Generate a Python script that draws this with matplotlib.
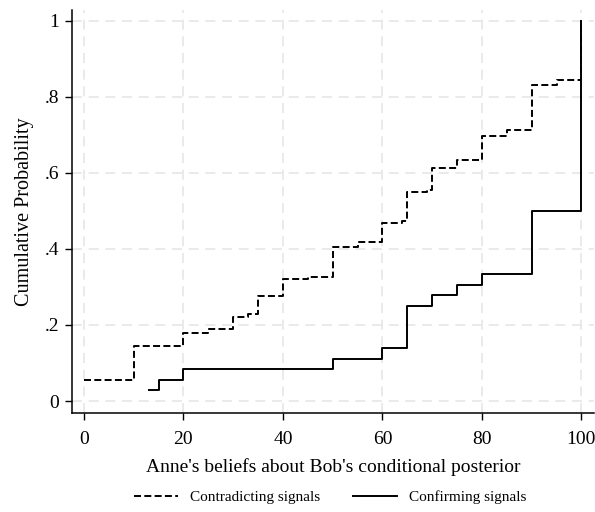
import matplotlib.pyplot as plt
from matplotlib.lines import Line2D

# step points (x, cumulative probability)
contra_x = [0, 10, 20, 25, 30, 33, 35, 40, 45, 50, 55, 60, 64, 65, 69, 70,
            75, 80, 85, 90, 95, 100]
contra_y = [0.055, 0.146, 0.178, 0.190, 0.220, 0.230, 0.276, 0.321, 0.326,
            0.406, 0.419, 0.467, 0.474, 0.549, 0.555, 0.614, 0.634, 0.697,
            0.714, 0.831, 0.844, 1.0]

confirm_x = [13, 15, 20, 50, 60, 65, 70, 75, 80, 90, 100]
confirm_y = [0.0278, 0.0556, 0.0833, 0.111, 0.139, 0.25, 0.278, 0.306,
             0.333, 0.5, 1.0]

xticks = [0, 20, 40, 60, 80, 100]
yticks = [0, 0.2, 0.4, 0.6, 0.8, 1]
ytick_labels = ["0", ".2", ".4", ".6", ".8", "1"]

plt.rcParams["font.family"] = ["Liberation Serif", "DejaVu Serif"]

dash = (0, (3.6, 1.7))

fig = plt.figure(figsize=(5.95, 5.12), dpi=100)
ax = fig.add_axes([0.121, 0.193, 0.877, 0.787])

ax.grid(True, color="#e6e6e6", linestyle=(0, (6, 4)), linewidth=1.2)
ax.set_axisbelow(True)

ax.step(contra_x, contra_y, where="post", color="black", linewidth=1.4,
        linestyle=dash)
ax.step(confirm_x, confirm_y, where="post", color="black", linewidth=1.4)

ax.set_xlim(-2.4, 102.5)
ax.set_ylim(-0.032, 1.028)
ax.set_xticks(xticks)
ax.set_yticks(yticks)
ax.set_yticklabels(ytick_labels)
ax.tick_params(direction="out", length=5, width=1, labelsize=14)
ax.tick_params(axis="x", pad=8)
ax.tick_params(axis="y", pad=4)

for side in ["top", "right"]:
    ax.spines[side].set_visible(False)
for side in ["left", "bottom"]:
    ax.spines[side].set_linewidth(1.1)

ax.set_xlabel("Anne's beliefs about Bob's conditional posterior", fontsize=14,
              labelpad=7)
ax.set_ylabel("Cumulative Probability", fontsize=14.5, labelpad=8)

handles = [
    Line2D([], [], color="black", linewidth=1.4, linestyle=dash),
    Line2D([], [], color="black", linewidth=1.4),
]
fig.legend(handles, ["Contradicting signals", "Confirming signals"],
           loc="center", bbox_to_anchor=(0.555, 0.029), ncol=2,
           frameon=False, fontsize=11, handlelength=2.9, handletextpad=0.8,
           columnspacing=2.1)

fig.savefig("out.png", dpi=100)
